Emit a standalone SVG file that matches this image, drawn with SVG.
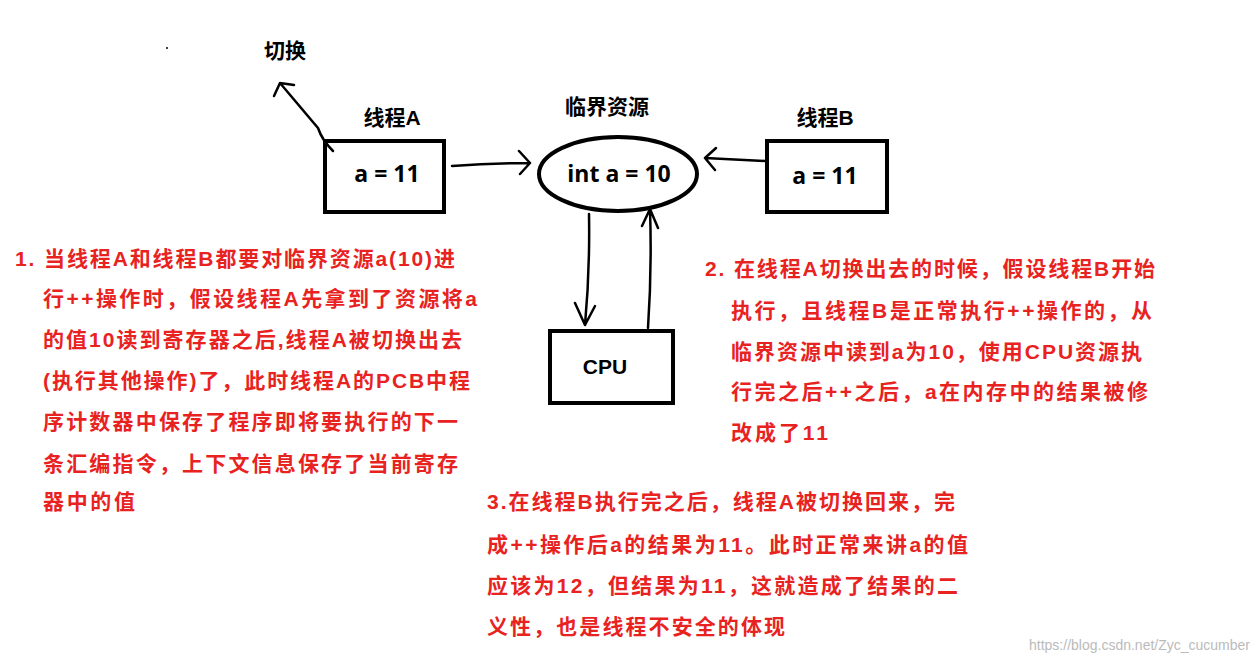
<svg xmlns="http://www.w3.org/2000/svg" width="1259" height="662" viewBox="0 0 1259 662">
<style>
.lbl{font-family:"Liberation Sans","Noto Sans CJK SC",sans-serif;font-weight:bold;font-size:21px;fill:#000}
.big{font-family:"Open Sans","Liberation Sans",sans-serif;font-weight:bold;font-size:23px;fill:#000}
.red{font-family:"Liberation Sans","Noto Sans CJK SC",sans-serif;font-weight:bold;font-size:21px;fill:#e8231f}
.box{fill:#fff;stroke:#000;stroke-width:4}
.ln{fill:none;stroke:#000;stroke-width:2.5;stroke-linecap:round;stroke-linejoin:round}
</style>
<rect width="1259" height="662" fill="#fff"/>
<circle cx="167" cy="48" r="1" fill="#000"/>
<text class="lbl" x="285" y="58" text-anchor="middle">切换</text>
<g id="threadA"><text class="lbl" x="392" y="125" text-anchor="middle">线程A</text><rect class="box" x="325" y="141" width="119" height="71"/><text class="big" x="387" y="182" text-anchor="middle">a = 11</text></g>
<g id="resource"><text class="lbl" x="607" y="114" text-anchor="middle">临界资源</text><ellipse class="box" cx="618" cy="174" rx="79" ry="37"/><text class="big" x="619" y="182" text-anchor="middle">int a = 10</text></g>
<g id="threadB"><text class="lbl" x="825" y="125" text-anchor="middle">线程B</text><rect class="box" x="767" y="141" width="120" height="71"/><text class="big" x="825" y="184" text-anchor="middle">a = 11</text></g>
<g id="cpu"><rect class="box" x="550" y="331" width="123" height="72"/><text class="lbl" x="605" y="374" text-anchor="middle">CPU</text></g>
<g id="connectors">
<path class="ln" d="M333 151 Q322 140 318 128 L280 83 M280 83 L274 96 M280 83 L294 85"/>
<path class="ln" d="M452 166 Q490 163 530 163 M530 163 L519 151 M530 163 L520 174"/>
<path class="ln" d="M765 161 L705 158 M705 158 L716 148 M705 158 L715 170"/>
<path class="ln" d="M589 214 Q590 270 585 325 M585 325 L575 303 M585 325 L595 306"/>
<path class="ln" d="M648 328 Q652 270 650 209 M650 209 L642 226 M650 209 L658 228"/>
</g>
<g id="note1">
<text class="red" x="15" y="266" textLength="440">1. 当线程A和线程B都要对临界资源a(10)进</text>
<text class="red" x="43" y="306" textLength="434">行++操作时，假设线程A先拿到了资源将a</text>
<text class="red" x="43" y="347" textLength="419">的值10读到寄存器之后,线程A被切换出去</text>
<text class="red" x="43" y="388" textLength="427">(执行其他操作)了，此时线程A的PCB中程</text>
<text class="red" x="43" y="429" textLength="415">序计数器中保存了程序即将要执行的下一</text>
<text class="red" x="43" y="471" textLength="415">条汇编指令，上下文信息保存了当前寄存</text>
<text class="red" x="43" y="509" textLength="92">器中的值</text>
</g>
<g id="note2">
<text class="red" x="705" y="276" textLength="450">2. 在线程A切换出去的时候，假设线程B开始</text>
<text class="red" x="731" y="318" textLength="421">执行，且线程B是正常执行++操作的，从</text>
<text class="red" x="731" y="359" textLength="411">临界资源中读到a为10，使用CPU资源执</text>
<text class="red" x="731" y="399" textLength="417">行完之后++之后，a在内存中的结果被修</text>
<text class="red" x="731" y="440" textLength="97">改成了11</text>
</g>
<g id="note3">
<text class="red" x="487" y="509" textLength="468">3.在线程B执行完之后，线程A被切换回来，完</text>
<text class="red" x="487" y="552" textLength="481">成++操作后a的结果为11。此时正常来讲a的值</text>
<text class="red" x="487" y="593" textLength="471">应该为12，但结果为11，这就造成了结果的二</text>
<text class="red" x="487" y="634" textLength="298">义性，也是线程不安全的体现</text>
</g>
<text x="1250" y="650" text-anchor="end" font-family="Liberation Sans,sans-serif" font-size="14" fill="#bbb">https://blog.csdn.net/Zyc_cucumber</text>
</svg>
